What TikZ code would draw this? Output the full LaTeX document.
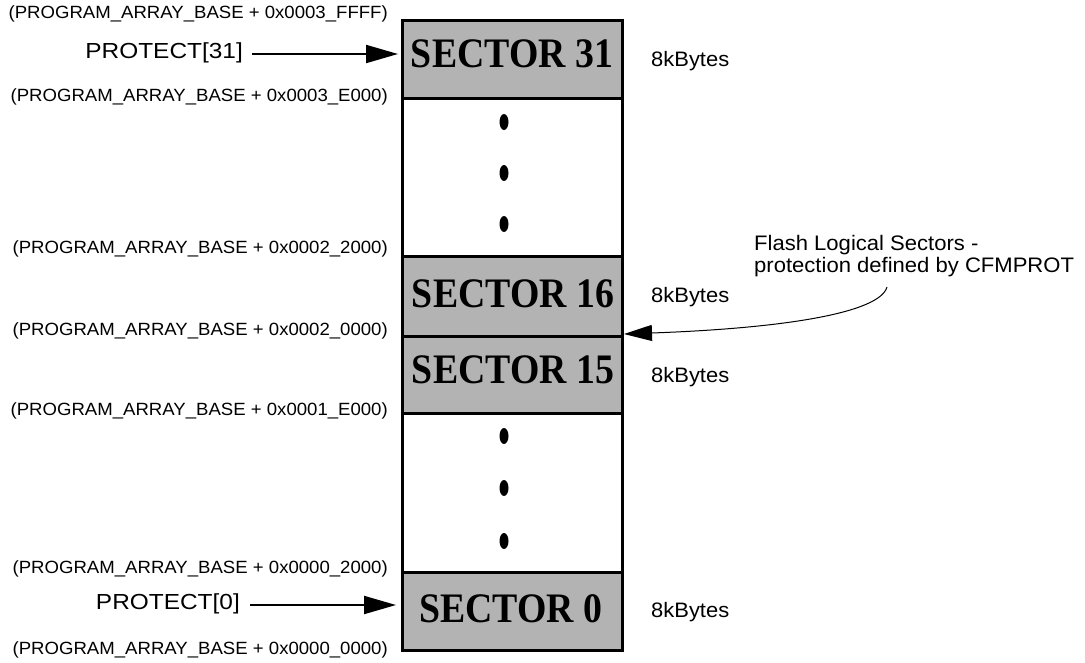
\documentclass[tikz,border=0pt]{standalone}
\usepackage{fontspec}
\setmainfont[FakeStretch=1.05]{Liberation Sans}
\newfontfamily\protfont[FakeStretch=1.12]{Liberation Sans}
\newfontfamily\secfont[FakeStretch=0.9]{Liberation Serif}
\usetikzlibrary{arrows.meta,shapes.geometric}
\definecolor{secgray}{HTML}{B3B3B3}
\begin{document}
\begin{tikzpicture}[x=1pt,y=-1pt,
  sector/.style={draw,line width=3pt,fill=secgray,minimum width=220pt,minimum height=#1,inner sep=0pt,outer sep=0pt},
  gap/.style={draw,line width=3pt,fill=white,minimum width=220pt,minimum height=#1,inner sep=0pt,outer sep=0pt},
  sectext/.style={inner sep=0pt,font=\secfont\bfseries\fontsize{42}{44}\selectfont},
  addr/.style={anchor=east,inner sep=0pt,font=\fontsize{17.7}{19}\selectfont},
  prot/.style={anchor=base east,inner sep=0pt,font=\protfont\fontsize{21.8}{24}\selectfont},
  size/.style={anchor=west,inner sep=0pt,font=\fontsize{20.9}{22}\selectfont},
  note/.style={anchor=west,inner sep=0pt,align=left,font=\fontsize{21}{22.5}\selectfont},
  vdot/.style={fill=black,ellipse,minimum width=9pt,minimum height=16pt,inner sep=0pt},
  parrow/.style={line width=2pt,-{Triangle[length=32pt,width=18pt]}}
]
\useasboundingbox (0,0) rectangle (1085,662);
% memory column
\node[sector=78pt] (s31) at (512,59) {};
\node[gap=158pt] (g1) at (512,177) {};
\node[sector=80pt] (s16) at (512,296) {};
\node[sector=77pt] (s15) at (512,374.5) {};
\node[gap=159pt] (g2) at (512,492.5) {};
\node[sector=78pt] (s0) at (512,611) {};
\node[sectext] (t31) at (512,54) {SECTOR 31};
\node[sectext] (t16) at (513,294) {SECTOR 16};
\node[sectext] (t15) at (513,370) {SECTOR 15};
\node[sectext] (t0) at (511,609) {SECTOR 0};
% dots
\foreach \n/\y in {d1/122,d2/173,d3/224,d4/436,d5/488,d6/541}{
  \node[vdot] (\n) at (504,\y) {};}
% address labels
\node[addr] (a1) at (388,14) {(PROGRAM\_ARRAY\_BASE + 0x0003\_FFFF)};
\node[addr] (a2) at (388,97) {(PROGRAM\_ARRAY\_BASE + 0x0003\_E000)};
\node[addr] (a3) at (388,249) {(PROGRAM\_ARRAY\_BASE + 0x0002\_2000)};
\node[addr] (a4) at (388,331) {(PROGRAM\_ARRAY\_BASE + 0x0002\_0000)};
\node[addr] (a5) at (388,411) {(PROGRAM\_ARRAY\_BASE + 0x0001\_E000)};
\node[addr] (a6) at (388,569) {(PROGRAM\_ARRAY\_BASE + 0x0000\_2000)};
\node[addr] (a7) at (388,650) {(PROGRAM\_ARRAY\_BASE + 0x0000\_0000)};
% protect labels
\node[prot] (p31) at (243,58) {PROTECT[31]};
\node[prot] (p0) at (240,609) {PROTECT[0]};
\coordinate (e31) at (p31.base east -| s31.west);
\coordinate (e0) at (p0.base east -| s0.west);
\draw[parrow] ([xshift=9pt,yshift=4pt]p31.base east) -- ([xshift=-4pt,yshift=4pt]e31);
\draw[parrow] ([xshift=10pt,yshift=4pt]p0.base east) -- ([xshift=-6pt,yshift=4pt]e0);
% sizes
\node[size] (k31) at (651,61) {8kBytes};
\node[size] (k16) at (651,297) {8kBytes};
\node[size] (k15) at (651,377) {8kBytes};
\node[size] (k0) at (651,612) {8kBytes};
% note
\node[note] (nt) at (754,256) {Flash Logical Sectors -\\protection defined by CFMPROT};
\coordinate (cs) at (887,287);
\draw[line width=1pt,-{Triangle[length=28pt,width=16pt]}] (cs) .. controls (880,312) and (790,328) .. ([xshift=2pt,yshift=2pt]s16.south east);
\end{tikzpicture}
\end{document}
